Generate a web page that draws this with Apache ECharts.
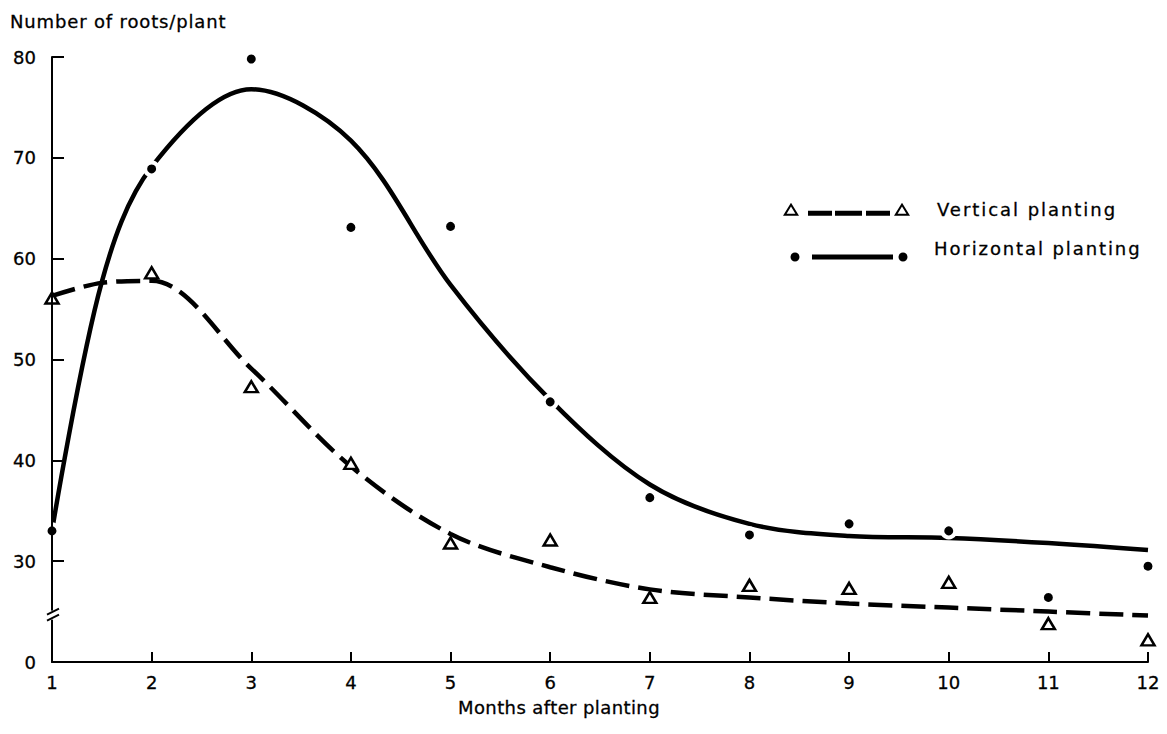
<!DOCTYPE html>
<html>
<head>
<meta charset="utf-8">
<title>Number of roots/plant</title>
<script src="https://cdn.jsdelivr.net/npm/echarts@6/dist/echarts.min.js"></script>
<style>
  html, body { margin: 0; padding: 0; background: #fff; }
  #chart { width: 1167px; height: 734px; }
</style>
</head>
<body>
<div id="chart"></div>
<script>
// axis text
const titleText = 'Number of roots/plant';
const xName = 'Months after planting';
const seriesNames = ['Vertical planting', 'Horizontal planting'];

// x axis: months 1..12
const months = [1, 2, 3, 4, 5, 6, 7, 8, 9, 10, 11, 12];
// y axis is broken: the lowest tick is printed as "0"
const yMin = 20;
const yMax = 80;
const yStep = 10;
const yBottomLabel = '0';
const yBreakAt = 24.6;

// observed points
const verticalPts = [56.1, 58.6, 47.3, 39.7, 31.8, 32.1, 26.4, 27.6, 27.3, 27.9, 23.8, 22.2];
const horizontalPts = [33.0, 68.9, 79.8, 63.1, 63.2, 45.8, 36.3, 32.6, 33.7, 33.0, 26.4, 29.5];

// fitted curves
const verticalCurveX = [1, 1.5, 2, 3, 4, 5, 6, 7, 8, 9, 10, 11, 12];
const verticalCurveY = [56.3, 57.6, 57.8, 49.1, 39.4, 32.7, 29.4, 27.2, 26.4, 25.8, 25.4, 25.0, 24.6];
const horizontalCurveX = [1, 1.5, 2, 3, 4, 5, 6, 7, 8, 9, 10, 11, 12];
const horizontalCurveY = [33.0, 57.7, 69.1, 76.8, 71.7, 57.4, 46.0, 37.6, 33.7, 32.5, 32.3, 31.8, 31.1];

const FONT = 'DejaVu Sans';
const INK = '#000';

// legend keys drawn as one path each
const vertIcon = 'path://M0 13L8 0L16 13ZM3.6 11L12.4 11L8 3.8Z' +
  'M25 8H49V13H25ZM52 8H79V13H52ZM83 8H107V13H83Z' +
  'M111 13L119 0L127 13ZM114.6 11L123.4 11L119 3.8Z';
// the tiny square on top lifts the text above the key line
const horizIcon = 'path://M58 -18h0.01v0.01h-0.01Z' +
  'M0 4.5A4.5 4.5 0 1 1 9 4.5A4.5 4.5 0 1 1 0 4.5Z' +
  'M21.5 2H102.5V7H21.5Z' +
  'M108 4.5A4.5 4.5 0 1 1 117 4.5A4.5 4.5 0 1 1 108 4.5Z';

// wider tracking, like the typeset original
const spacing = {};
spacing[titleText] = 0.85;
spacing[seriesNames[0]] = 1.95;
spacing[seriesNames[1]] = 1.9;
spacing[xName] = 0.4;

const chart = echarts.init(document.getElementById('chart'), null, {renderer: 'svg'});

let spaceTexts = () => {
  chart.getDom().querySelectorAll('text').forEach(t => {
    const s = spacing[t.textContent];
    if (s) t.style.letterSpacing = s + 'px';
  });
};
chart.on('finished', spaceTexts);

const textBase = {
  fontFamily: FONT, fontSize: 18, color: INK, fontWeight: 'normal',
  textBorderColor: INK, textBorderWidth: 0.3
};

const option = {
  animation: false,
  backgroundColor: '#fff',
  title: {
    text: titleText,
    left: 10,
    top: 12,
    padding: 0,
    textStyle: textBase
  },
  legend: [
    {
      data: [{name: seriesNames[0], icon: vertIcon, itemStyle: {color: INK, borderWidth: 0}}],
      left: 783,
      top: 200,
      padding: 0,
      itemWidth: 127,
      itemHeight: 13,
      selectedMode: false,
      textStyle: Object.assign({}, textBase, {padding: [0, 0, 0, 22]})
    },
    {
      data: [{name: seriesNames[1], icon: horizIcon, itemStyle: {color: INK, borderWidth: 0}}],
      left: 790.5,
      top: 234.5,
      padding: 0,
      itemWidth: 117,
      itemHeight: 27,
      selectedMode: false,
      textStyle: Object.assign({}, textBase, {padding: [0, 0, 0, 21.5]})
    }
  ],
  grid: {left: 52, right: 19, top: 57, bottom: 72},
  xAxis: {
    type: 'value',
    min: months[0],
    max: months[months.length - 1],
    interval: 1,
    name: xName,
    nameLocation: 'middle',
    nameGap: 36,
    nameTextStyle: Object.assign({}, textBase, {padding: [0, 82, 0, 0]}),
    axisLine: {lineStyle: {color: INK, width: 2}},
    axisTick: {inside: true, length: 10, lineStyle: {color: INK, width: 2}},
    axisLabel: Object.assign({}, textBase, {margin: 11}),
    splitLine: {show: false}
  },
  yAxis: {
    type: 'value',
    min: yMin,
    max: yMax,
    interval: yStep,
    z: 10,
    axisLine: {show: true, lineStyle: {color: INK, width: 2}},
    axisTick: {show: true, inside: true, length: 12, lineStyle: {color: INK, width: 2}},
    axisLabel: Object.assign({}, textBase, {
      margin: 16,
      formatter: v => (v === yMin ? yBottomLabel : String(v))
    }),
    splitLine: {show: false}
  },
  series: [
    {
      name: 'Vertical fit',
      type: 'line',
      data: verticalCurveX.map((x, i) => [x, verticalCurveY[i]]),
      smooth: 0.33,
      showSymbol: false,
      symbol: 'none',
      lineStyle: {color: INK, width: 4.5, type: [24, 9]},
      z: 2
    },
    {
      name: 'Horizontal fit',
      type: 'line',
      data: horizontalCurveX.map((x, i) => [x, horizontalCurveY[i]]),
      smooth: 0.33,
      showSymbol: false,
      symbol: 'none',
      lineStyle: {color: INK, width: 4.5},
      z: 3
    },
    {
      name: seriesNames[0],
      type: 'scatter',
      data: months.map((m, i) => [m, verticalPts[i]]),
      symbol: 'triangle',
      symbolSize: [13, 11],
      itemStyle: {color: '#fff', borderColor: INK, borderWidth: 2.5, opacity: 1},
      z: 4
    },
    {
      name: seriesNames[1],
      type: 'scatter',
      data: months.map((m, i) => [m, horizontalPts[i]]),
      symbol: 'circle',
      symbolSize: 13,
      itemStyle: {color: INK, borderColor: '#fff', borderWidth: 4, opacity: 1},
      z: 5
    }
  ]
};

chart.setOption(option);

// break mark on the y axis
const [bx, by] = chart.convertToPixel({gridIndex: 0}, [months[0], yBreakAt]);
chart.setOption({
  graphic: [
    {type: 'rect', z: 100, shape: {x: bx - 3, y: by - 5, width: 6, height: 9}, style: {fill: '#fff'}},
    {type: 'line', z: 101, shape: {x1: bx - 5, y1: by - 1, x2: bx + 7, y2: by - 7}, style: {stroke: INK, lineWidth: 2}},
    {type: 'line', z: 101, shape: {x1: bx - 5, y1: by + 5, x2: bx + 7, y2: by - 1}, style: {stroke: INK, lineWidth: 2}}
  ]
});
setTimeout(spaceTexts, 50);
</script>
</body>
</html>
